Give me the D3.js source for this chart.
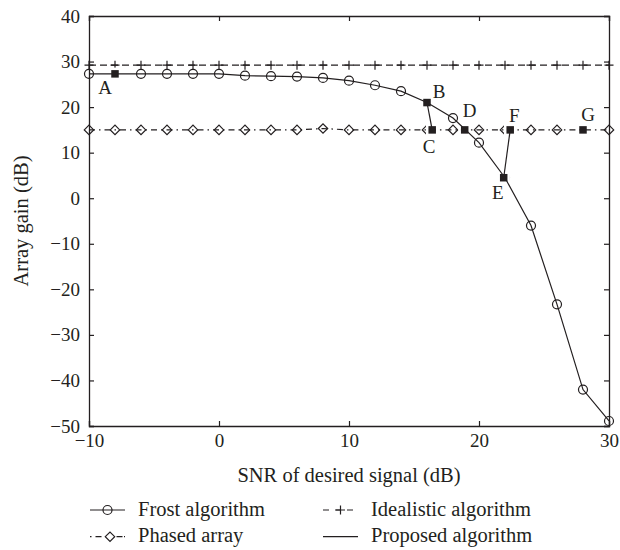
<!DOCTYPE html>
<html>
<head>
<meta charset="utf-8">
<script src="https://cdn.jsdelivr.net/npm/d3@7"></script>
<style>
  body { margin: 0; background: #fff; }
  text { font-family: "Liberation Serif", "DejaVu Serif", serif; fill: #231f20; }
</style>
</head>
<body>
<div id="chart"></div>
<script>
// values
const snr = [-10, -8, -6, -4, -2, 0, 2, 4, 6, 8, 10, 12, 14, 16, 18, 20, 22, 24, 26, 28, 30]
const frost = [27.3, 27.3, 27.3, 27.3, 27.3, 27.3, 26.9, 26.8, 26.7, 26.4, 25.8, 24.8, 23.5, 21.0, 17.6, 12.2, 4.5, -6.0, -23.3, -42.0, -48.9]
const idealistic = [29.2, 29.2, 29.2, 29.2, 29.2, 29.2, 29.2, 29.2, 29.2, 29.2, 29.2, 29.2, 29.2, 29.2, 29.2, 29.2, 29.2, 29.2, 29.2, 29.2, 29.2]
const phased = [15, 15, 15, 15, 15, 15, 15, 15, 15, 15.3, 15, 15, 15, 15, 15, 15, 15, 15, 15, 15, 15]

const proposedLabels = ['A', 'B', 'C', 'D', 'E', 'F', 'G']
const proposedSnr = [-8, 16, 16.4, 18.9, 21.9, 22.4, 28]
const proposedGain = [27.3, 21.0, 15, 15, 4.5, 15, 15]
// switching jumps of the proposed algorithm (index pairs)
const proposedJumps = [[1, 2], [4, 5]]

const xTicks = [-10, 0, 10, 20, 30]
const yTicks = [-50, -40, -30, -20, -10, 0, 10, 20, 30, 40]

const legendNames = ['Frost algorithm', 'Phased array', 'Idealistic algorithm', 'Proposed algorithm']

// layout
const W = 620, H = 550
const plotL = 89, plotR = 609, plotT = 16, plotB = 426
const ink = '#231f20'
const labelOffsets = [[-10, 20], [12, -5], [-3, 23], [5, -13], [-6, 21], [4, -8], [5, -9]]

const svg = d3.select('#chart').append('svg')
  .attr('width', W)
  .attr('height', H)
  .attr('xmlns', 'http://www.w3.org/2000/svg')

const x = d3.scaleLinear().domain([-10, 30]).range([plotL, plotR])
const y = d3.scaleLinear().domain([-50, 40]).range([plotB, plotT])

const minus = d => d < 0 ? '\u2212' + Math.abs(d) : d

// axes (ticks pointing inward on all four sides)
svg.append('g')
  .attr('transform', `translate(0,${plotB})`)
  .call(d3.axisBottom(x).tickValues(xTicks).tickSize(-5).tickPadding(8).tickFormat(minus))
svg.append('g')
  .attr('transform', `translate(0,${plotT})`)
  .call(d3.axisTop(x).tickValues(xTicks).tickSize(-5).tickFormat(''))
svg.append('g')
  .attr('transform', `translate(${plotL},0)`)
  .call(d3.axisLeft(y).tickValues(yTicks).tickSize(-5).tickPadding(9).tickFormat(minus))
svg.append('g')
  .attr('transform', `translate(${plotR},0)`)
  .call(d3.axisRight(y).tickValues(yTicks).tickSize(-5).tickFormat(''))

svg.selectAll('.domain').attr('stroke', ink).attr('stroke-width', 1.3)
svg.selectAll('.tick line').attr('stroke', ink).attr('stroke-width', 1.2)
svg.selectAll('.tick text')
  .attr('fill', ink)
  .style('font-family', '"Liberation Serif", serif')
  .style('font-size', '19px')

// axis titles
svg.append('text')
  .attr('x', (plotL + plotR) / 2)
  .attr('y', 482)
  .attr('text-anchor', 'middle')
  .style('font-size', '20.5px')
  .text('SNR of desired signal (dB)')

svg.append('text')
  .attr('transform', `translate(28,${(plotT + plotB) / 2}) rotate(-90)`)
  .attr('text-anchor', 'middle')
  .style('font-size', '20.5px')
  .text('Array gain (dB)')

// markers
function plus(g, cx, cy, s) {
  g.append('path')
    .attr('d', `M ${cx - s} ${cy} h ${2 * s} M ${cx} ${cy - s} v ${2 * s}`)
    .attr('stroke', ink).attr('stroke-width', 1.2).attr('fill', 'none')
}
function diamond(g, cx, cy, s) {
  g.append('path')
    .attr('d', `M ${cx - s} ${cy} L ${cx} ${cy - s} L ${cx + s} ${cy} L ${cx} ${cy + s} Z`)
    .attr('stroke', ink).attr('stroke-width', 1.2).attr('fill', 'none')
}
function circle(g, cx, cy, r) {
  g.append('circle').attr('cx', cx).attr('cy', cy).attr('r', r)
    .attr('stroke', ink).attr('stroke-width', 1.2).attr('fill', 'none')
}

const line = d3.line().x(d => x(d[0])).y(d => y(d[1]))

const frostPts = snr.map((s, i) => [s, frost[i]])
const idealPts = snr.map((s, i) => [s, idealistic[i]])
const phasedPts = snr.map((s, i) => [s, phased[i]])
const propPts = proposedSnr.map((s, i) => [s, proposedGain[i]])

// open markers first
const mk = svg.append('g')
idealPts.forEach(p => plus(mk, x(p[0]), y(p[1]), 4.5))
phasedPts.forEach(p => diamond(mk, x(p[0]), y(p[1]), 4.7))
frostPts.forEach(p => circle(mk, x(p[0]), y(p[1]), 4.5))

// white halos: the proposed squares mask the markers underneath
const sq = 7.5
svg.append('g').selectAll('rect')
  .data(propPts)
  .join('rect')
  .attr('x', d => x(d[0]) - sq / 2 - 2.5)
  .attr('y', d => y(d[1]) - sq / 2 - 2.5)
  .attr('width', sq + 5).attr('height', sq + 5)
  .attr('fill', '#fff')

// series lines
svg.append('path').attr('d', line(idealPts))
  .attr('fill', 'none').attr('stroke', ink).attr('stroke-width', 1.2)
  .attr('stroke-dasharray', '7,4')
svg.append('path').attr('d', line(phasedPts))
  .attr('fill', 'none').attr('stroke', ink).attr('stroke-width', 1.2)
  .attr('stroke-dasharray', '6,4,1.5,4')
svg.append('path').attr('d', line(frostPts))
  .attr('fill', 'none').attr('stroke', ink).attr('stroke-width', 1.2)

// proposed algorithm: switching jumps drawn solid
proposedJumps.forEach(j => {
  svg.append('path').attr('d', line([propPts[j[0]], propPts[j[1]]]))
    .attr('fill', 'none').attr('stroke', ink).attr('stroke-width', 1.2)
})

svg.append('g').selectAll('rect')
  .data(propPts)
  .join('rect')
  .attr('x', d => x(d[0]) - sq / 2)
  .attr('y', d => y(d[1]) - sq / 2)
  .attr('width', sq).attr('height', sq)
  .attr('fill', ink)

svg.append('g').selectAll('text')
  .data(propPts)
  .join('text')
  .attr('x', (d, i) => x(d[0]) + labelOffsets[i][0])
  .attr('y', (d, i) => y(d[1]) + labelOffsets[i][1])
  .attr('text-anchor', 'middle')
  .style('font-size', '19px')
  .text((d, i) => proposedLabels[i])

// legend
const lg = svg.append('g')
const legendPos = [[90, 510], [90, 536.7], [323, 510], [323, 536.7]]
const symW = 35

// Frost
lg.append('line').attr('x1', legendPos[0][0]).attr('x2', legendPos[0][0] + symW)
  .attr('y1', legendPos[0][1]).attr('y2', legendPos[0][1])
  .attr('stroke', ink).attr('stroke-width', 1.2)
circle(lg, legendPos[0][0] + symW / 2, legendPos[0][1], 4.5)
// Phased
lg.append('line').attr('x1', legendPos[1][0]).attr('x2', legendPos[1][0] + symW)
  .attr('y1', legendPos[1][1]).attr('y2', legendPos[1][1])
  .attr('stroke', ink).attr('stroke-width', 1.2)
  .attr('stroke-dasharray', '1.5,4,6,15,6')
diamond(lg, legendPos[1][0] + 20, legendPos[1][1], 4.7)
// Idealistic
lg.append('line').attr('x1', legendPos[2][0]).attr('x2', legendPos[2][0] + symW)
  .attr('y1', legendPos[2][1]).attr('y2', legendPos[2][1])
  .attr('stroke', ink).attr('stroke-width', 1.2)
  .attr('stroke-dasharray', '6,6')
plus(lg, legendPos[2][0] + symW / 2, legendPos[2][1], 4.5)
// Proposed
lg.append('line').attr('x1', legendPos[3][0]).attr('x2', legendPos[3][0] + symW)
  .attr('y1', legendPos[3][1]).attr('y2', legendPos[3][1])
  .attr('stroke', ink).attr('stroke-width', 1.2)

lg.selectAll('text.name')
  .data(legendNames)
  .join('text')
  .attr('class', 'name')
  .attr('x', (d, i) => legendPos[i][0] + 48)
  .attr('y', (d, i) => legendPos[i][1] + 5.5)
  .style('font-size', '20.5px')
  .text(d => d)
</script>
</body>
</html>
